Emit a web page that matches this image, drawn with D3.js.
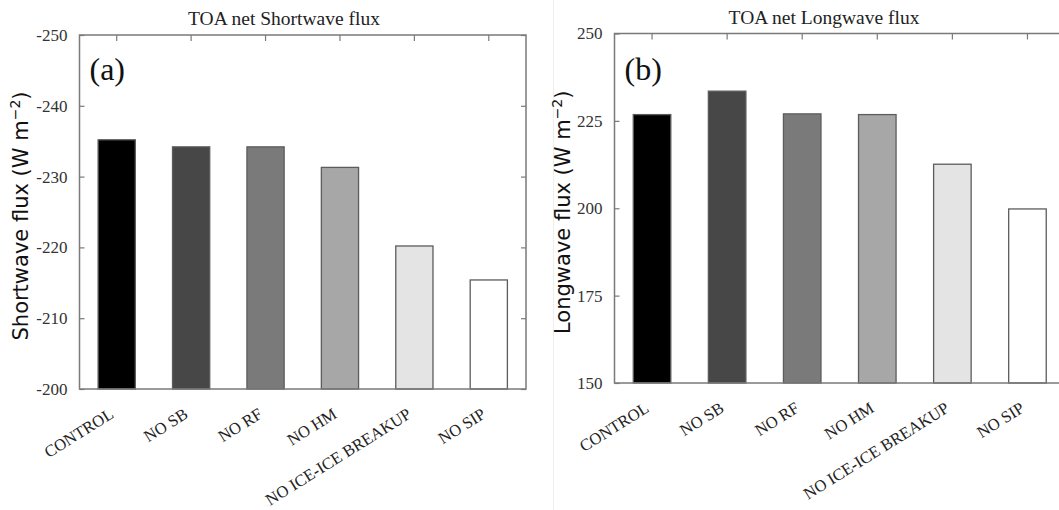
<!DOCTYPE html>
<html>
<head>
<meta charset="utf-8">
<script src="https://cdn.jsdelivr.net/npm/d3@7"></script>
<style>
  html, body { margin: 0; padding: 0; background: #fff; }
  svg { display: block; }
</style>
</head>
<body>
<svg id="chart" width="1059" height="510"></svg>
<script>
// Experiment names shared by both panels
const categories = ["CONTROL", "NO SB", "NO RF", "NO HM", "NO ICE-ICE BREAKUP", "NO SIP"];

// TOA net fluxes (W m-2)
const shortwaveValues = [-235.2, -234.2, -234.2, -231.3, -220.2, -215.4];
const longwaveValues  = [226.8, 233.5, 227.0, 226.8, 212.6, 199.8];

// Axis tick values
const shortwaveTicks = [-250, -240, -230, -220, -210, -200];
const longwaveTicks  = [250, 225, 200, 175, 150];

// Grey ramp for the experiments
const barFills = ["#000000", "#474747", "#7a7a7a", "#a7a7a7", "#e4e4e4", "#ffffff"];

const svg = d3.select("#chart");

// faint seam between the two panels
svg.append("line")
  .attr("x1", 553.5).attr("x2", 553.5).attr("y1", 0).attr("y2", 510)
  .attr("stroke", "#eeeeee").attr("stroke-width", 1);

function drawPanel(p) {
  const x = d3.scaleBand()
    .domain(categories)
    .range([p.left, p.right])
    .paddingInner(0.5)
    .paddingOuter(0.25);

  const y = d3.scaleLinear()
    .domain(p.domain)          // [baseline value, top value]
    .range([p.bottom, p.top]);

  const g = svg.append("g");

  // inward ticks on all four sides
  const tickStyle = sel => {
    sel.select(".domain").remove();
    sel.selectAll(".tick line").attr("stroke", "#7a7a7a").attr("stroke-width", 1.2);
  };

  g.append("g")
    .attr("transform", `translate(${p.left},0)`)
    .call(d3.axisLeft(y).tickValues(p.ticks).tickSize(-5).tickPadding(12).tickFormat(d => String(d)))
    .call(tickStyle)
    .call(s => s.selectAll(".tick text")
      .attr("font-family", "'Liberation Serif', 'Times New Roman', serif")
      .attr("font-size", 17)
      .attr("fill", "#333"));

  g.append("g")
    .attr("transform", `translate(${p.right},0)`)
    .call(d3.axisRight(y).tickValues(p.ticks).tickSize(-5).tickFormat(""))
    .call(tickStyle);

  g.append("g")
    .attr("transform", `translate(0,${p.top})`)
    .call(d3.axisTop(x).tickSize(-6).tickFormat(""))
    .call(tickStyle);

  g.append("g")
    .attr("transform", `translate(0,${p.bottom})`)
    .call(d3.axisBottom(x).tickSize(-5).tickFormat(""))
    .call(tickStyle);

  // bars
  g.selectAll("rect.bar")
    .data(p.values.map((v, i) => ({ name: categories[i], value: v, fill: barFills[i] })))
    .join("rect")
    .attr("class", "bar")
    .attr("x", d => x(d.name))
    .attr("width", x.bandwidth())
    .attr("y", d => y(d.value))
    .attr("height", d => y(p.domain[0]) - y(d.value))
    .attr("fill", d => d.fill)
    .attr("stroke", "#5c5c5c")
    .attr("stroke-width", 1.3);

  // frame
  g.append("rect")
    .attr("x", p.left).attr("y", p.top)
    .attr("width", p.right - p.left).attr("height", p.bottom - p.top)
    .attr("fill", "none")
    .attr("stroke", "#7a7a7a")
    .attr("stroke-width", 1.5);

  // category labels
  g.selectAll("text.cat")
    .data(categories)
    .join("text")
    .attr("class", "cat")
    .attr("text-anchor", "end")
    .attr("transform", d => `translate(${x(d) + x.bandwidth() / 2 - 2},${p.bottom + 28}) rotate(-32)`)
    .attr("font-family", "'Liberation Serif', 'Times New Roman', serif")
    .attr("font-size", 16.5)
    .attr("fill", "#222")
    .text(d => d);

  // title
  g.append("text")
    .attr("x", p.titleX).attr("y", p.titleY)
    .attr("text-anchor", "middle")
    .attr("font-family", "'Liberation Serif', 'Times New Roman', serif")
    .attr("font-size", 19.5)
    .attr("fill", "#222")
    .text(p.title);

  // panel letter
  g.append("text")
    .attr("x", p.left + 10).attr("y", p.letterY)
    .attr("font-family", "'Liberation Serif', 'Times New Roman', serif")
    .attr("font-size", 32)
    .attr("fill", "#111")
    .text(p.letter);

  // y-axis title
  const yt = g.append("text")
    .attr("transform", `translate(${p.yTitleX},${(p.top + p.bottom) / 2 + 4}) rotate(-90)`)
    .attr("text-anchor", "middle")
    .attr("font-family", "'DejaVu Sans', sans-serif")
    .attr("font-size", 21)
    .attr("fill", "#111");
  yt.append("tspan").text(p.yTitle + " (W m");
  yt.append("tspan").attr("font-size", 14).attr("dy", -8).text("\u22122");
  yt.append("tspan").attr("dy", 8).text(")");
}

drawPanel({
  left: 79.5, right: 526, top: 35, bottom: 389,
  domain: [-200, -250],
  ticks: shortwaveTicks,
  values: shortwaveValues,
  title: "TOA net Shortwave flux", titleX: 284, titleY: 25,
  letter: "(a)", letterY: 80,
  yTitle: "Shortwave flux", yTitleX: 28
});

drawPanel({
  left: 614.5, right: 1065, top: 33.5, bottom: 383,
  domain: [150, 250],
  ticks: longwaveTicks,
  values: longwaveValues,
  title: "TOA net Longwave flux", titleX: 824, titleY: 23.5,
  letter: "(b)", letterY: 80,
  yTitle: "Longwave flux", yTitleX: 570
});
</script>
</body>
</html>
